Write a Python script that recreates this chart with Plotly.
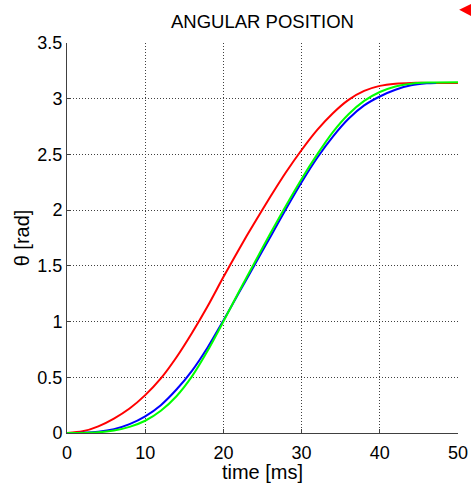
import plotly.graph_objects as go

# time samples [ms] and angular position [rad]
t_red = [0, 2, 4, 6, 8, 10, 12, 14, 16, 18, 20, 22, 24, 26, 28, 30, 32, 34, 36, 38, 40, 42, 44, 46, 50]
theta_red = [0, 0.015, 0.06, 0.13, 0.22, 0.34, 0.49, 0.68, 0.90, 1.14, 1.40, 1.65, 1.89, 2.12, 2.34, 2.54, 2.72, 2.87, 2.99, 3.07, 3.115, 3.135, 3.142, 3.142, 3.142]

t_blue = [0, 2, 4, 6, 8, 10, 12, 14, 16, 18, 20, 22, 24, 26, 28, 30, 32, 34, 36, 38, 40, 42, 44, 46, 47.2]
theta_blue = [0, 0.003, 0.012, 0.035, 0.08, 0.15, 0.25, 0.39, 0.56, 0.77, 1.01, 1.26, 1.51, 1.76, 2.01, 2.25, 2.47, 2.66, 2.82, 2.94, 3.02, 3.08, 3.12, 3.138, 3.142]

t_green = [0, 2, 4, 6, 8, 10, 12, 14, 16, 18, 20, 22, 24, 26, 28, 30, 32, 34, 36, 38, 40, 42, 44, 46, 50]
theta_green = [0, 0.001, 0.006, 0.022, 0.055, 0.11, 0.20, 0.33, 0.51, 0.74, 1.00, 1.27, 1.53, 1.79, 2.04, 2.28, 2.50, 2.70, 2.86, 2.98, 3.06, 3.11, 3.135, 3.145, 3.148]

x_ticks = [0, 10, 20, 30, 40, 50]
y_ticks = [0, 0.5, 1, 1.5, 2, 2.5, 3, 3.5]
y_tick_labels = ["0", "0.5", "1", "1.5", "2", "2.5", "3", "3.5"]

fig = go.Figure()
fig.add_trace(go.Scatter(x=t_red, y=theta_red, mode="lines", line=dict(color="#ff0000", width=2, shape="spline", smoothing=0.8), showlegend=False))
fig.add_trace(go.Scatter(x=t_blue, y=theta_blue, mode="lines", line=dict(color="#0000ff", width=2, shape="spline", smoothing=0.8), showlegend=False))
fig.add_trace(go.Scatter(x=t_green, y=theta_green, mode="lines", line=dict(color="#00ff00", width=2, shape="spline", smoothing=0.8), showlegend=False))

font = "Liberation Sans, Arial, sans-serif"
grid = dict(showgrid=True, gridcolor="#404040", griddash="1px,2px", gridwidth=1, zeroline=False)
fig.update_layout(
    width=471, height=483,
    margin=dict(l=67, r=13, t=43, b=50, autoexpand=False),
    paper_bgcolor="white", plot_bgcolor="white",
    font=dict(family=font, color="black"),
    title=dict(text="ANGULAR POSITION", x=0.5, xanchor="center", xref="paper", y=0.955, yanchor="middle",
               font=dict(size=18.5, family=font, color="black")),
    xaxis=dict(range=[0, 50], tickvals=x_ticks, ticks="inside", ticklen=4, tickcolor="#404040",
               showline=True, linecolor="#404040", linewidth=1, mirror=False, automargin=False,
               ticklabelstandoff=3,
               tickfont=dict(size=18), title=dict(text="time [ms]", font=dict(size=20), standoff=0), **grid),
    yaxis=dict(range=[0, 3.5], tickvals=y_ticks, ticktext=y_tick_labels, ticks="inside", ticklen=4, tickcolor="#404040",
               showline=True, linecolor="#404040", linewidth=1, mirror=False, automargin=False,
               tickfont=dict(size=18), title=dict(text="θ [rad]", font=dict(size=20), standoff=2), **grid),
    shapes=[dict(type="path", xref="paper", yref="paper",
                 path="M 1.003 1.085 L 1.04 1.103 L 1.04 1.066 Z",
                 fillcolor="#ff0000", line=dict(width=0))],
)

fig.write_html("out.html")
